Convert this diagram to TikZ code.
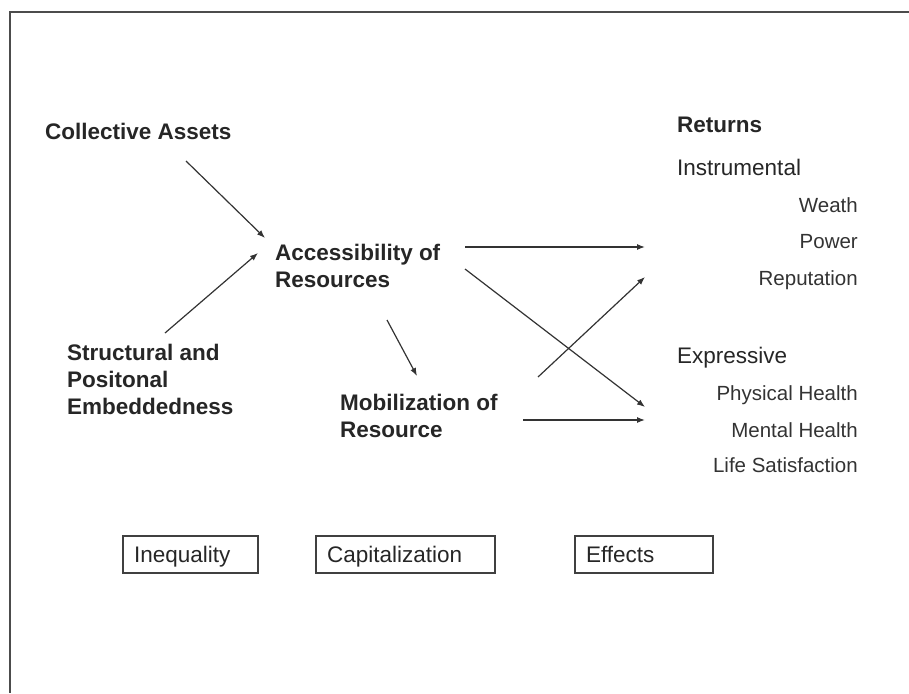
\documentclass[tikz,border=0pt]{standalone}
\usepackage{fontspec}
\setmainfont{Liberation Sans}
\usetikzlibrary{arrows.meta,positioning}

\begin{document}
\begin{tikzpicture}[x=1pt,y=-1pt,
                    big/.style={font=\fontsize{22.5}{27}\selectfont\bfseries,inner sep=0,anchor=base west,align=left,text=black!85},
                    head/.style={font=\fontsize{22.5}{27}\selectfont,inner sep=0,anchor=base west,text=black!85},
                    item/.style={font=\fontsize{20.5}{24}\selectfont,inner sep=0,anchor=base east,text=black!80},
                    part/.style={draw=black!75,line width=2pt,font=\fontsize{22.5}{27}\selectfont,inner xsep=11pt,inner ysep=0pt,text height=17pt,text depth=1pt,minimum height=37pt,anchor=west,align=left,text=black!85},
                    flow/.style={-{Latex[length=8pt,width=6pt]},line width=1.2pt,draw=black!80}]

\useasboundingbox (0,0) rectangle (909,693);
% frame (only top and left edges show)
\draw[line width=2.5pt,black!70] (909,12) -- (10,12) -- (10,693);

% sources (multi-line nodes sit on their last baseline)
\node[big] (ca) at (45,139) {Collective Assets};
\node[big] (spe) at (67,414) {Structural and\\Positonal\\Embeddedness};
\node[big] (acc) at (275,287) {Accessibility of\\Resources};
\node[big] (mob) at (340,437) {Mobilization of\\Resource};

% returns
\node[big] (ret) at (677,132) {Returns};
\node[head] (ins) at (677,175) {Instrumental};
\node[item] (wealth) at (858,212) {Weath};
\node[item] (power) at (858,248) {Power};
\node[item] (repu) at (858,285) {Reputation};
\node[head] (exp) at (677,363) {Expressive};
\node[item] (phys) at (858,400) {Physical Health};
\node[item] (ment) at (858,437) {Mental Health};
\node[item] (life) at (858,472) {Life Satisfaction};

% bottom labels
\node[part,text width=113pt] (ineq) at (122,554) {Inequality};
\node[part,text width=157pt] (capi) at (315,554) {Capitalization};
\node[part,text width=116pt] (effe) at (574,554) {Effects};

% arrow ends
\coordinate (caOut) at (186,161);
\coordinate (speOut) at (165,333);
\coordinate (accInA) at (265,238);
\coordinate (accInB) at (258,253);
\coordinate (accOutA) at (465,247);
\coordinate (accOutB) at (465,269);
\coordinate (accOutC) at (387,320);
\coordinate (mobIn) at (417,376);
\coordinate (mobOutA) at (538,377);
\coordinate (mobOutB) at (523,420);
\coordinate (insIn) at (645,247);
\coordinate (repuIn) at (645,277);
\coordinate (expIn) at (645,407);
\coordinate (mentIn) at (645,420);

\draw[flow] (caOut) -- (accInA);
\draw[flow] (speOut) -- (accInB);
\draw[flow] (accOutC) -- (mobIn);
\draw[flow] (accOutA) -- (insIn);
\draw[flow] (accOutB) -- (expIn);
\draw[flow] (mobOutA) -- (repuIn);
\draw[flow] (mobOutB) -- (mentIn);
\end{tikzpicture}
\end{document}
